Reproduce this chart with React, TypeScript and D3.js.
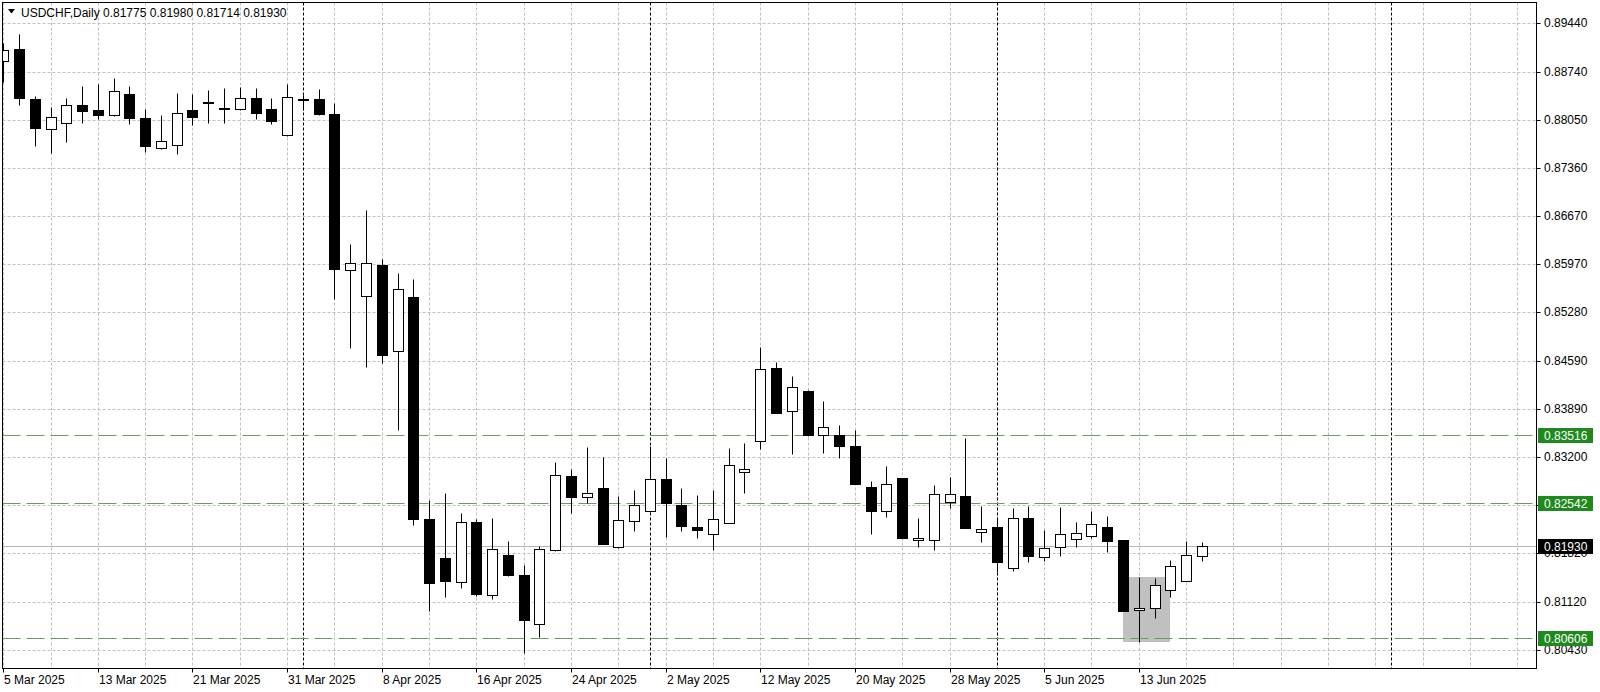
import React, { useEffect } from "react";
import * as d3 from "d3";

const width = 1600;
const height = 692;

// trading days shown on the chart
const marchDays = [5, 6, 7, 10, 11, 12, 13, 14, 17, 18, 19, 20, 21, 24, 25, 26, 27, 28, 31];
const aprilDays = [1, 2, 3, 4, 7, 8, 9, 10, 11, 14, 15, 16, 17, 18, 21, 22, 23, 24, 25, 28, 29, 30];
const mayDays = [1, 2, 5, 6, 7, 8, 9, 12, 13, 14, 15, 16, 19, 20, 21, 22, 23, 26, 27, 28, 29, 30];
const juneDays = [2, 3, 4, 5, 6, 9, 10, 11, 12, 13, 16, 17, 18, 19];

const opens = [
  0.88898, 0.89071, 0.88344, 0.87913, 0.88007, 0.88266, 0.88186, 0.88122, 0.8842, 0.88071,
  0.87639, 0.87683, 0.88186, 0.88305, 0.8821, 0.88204, 0.88362, 0.88209, 0.87826, 0.88345,
  0.88352, 0.88132, 0.85886, 0.85513, 0.85958, 0.84722, 0.85503, 0.82317, 0.81752, 0.81407,
  0.82274, 0.81225, 0.818, 0.81508, 0.80799, 0.81863, 0.82926, 0.82624, 0.82758, 0.81906,
  0.82284, 0.82427, 0.82883, 0.82514, 0.82202, 0.82093, 0.82255, 0.82992, 0.83433, 0.84482,
  0.8386, 0.84156, 0.8352, 0.8352, 0.83362, 0.82768, 0.82427, 0.82897, 0.82006, 0.82006,
  0.82553, 0.82639, 0.8213, 0.82202, 0.81604, 0.82331, 0.81762, 0.81906, 0.82029, 0.82075,
  0.82202, 0.82011, 0.81001, 0.81038, 0.81297, 0.81422, 0.81775,
];
const highs = [
  0.89148, 0.89282, 0.88391, 0.88237, 0.88367, 0.88535, 0.88563, 0.8865, 0.88535, 0.882,
  0.88114, 0.88438, 0.8842, 0.88477, 0.88506, 0.88525, 0.88506, 0.88362, 0.88563, 0.88405,
  0.88492, 0.88286, 0.86269, 0.86753, 0.86044, 0.85843, 0.85761, 0.82586, 0.82682, 0.82403,
  0.82308, 0.82323, 0.81996, 0.81652, 0.81925, 0.83136, 0.83027, 0.83351, 0.83208, 0.82643,
  0.82729, 0.83366, 0.83185, 0.82758, 0.82657, 0.82729, 0.83328, 0.83409, 0.84788, 0.84564,
  0.84367, 0.84165, 0.84013, 0.83659, 0.83591, 0.82859, 0.8307, 0.82905, 0.82331, 0.82801,
  0.82916, 0.83481, 0.82499, 0.82346, 0.82475, 0.82504, 0.82154, 0.82489, 0.82265, 0.82427,
  0.82356, 0.82015, 0.81483, 0.81469, 0.81723, 0.81996, 0.8198,
];
const lows = [
  0.88597, 0.88262, 0.87677, 0.87576, 0.87734, 0.88007, 0.88056, 0.8811, 0.87989, 0.87591,
  0.8763, 0.87562, 0.87974, 0.88007, 0.88007, 0.88195, 0.88056, 0.87989, 0.8782, 0.8819,
  0.88125, 0.8547, 0.84774, 0.84501, 0.8455, 0.83591, 0.82226, 0.80995, 0.81196, 0.81317,
  0.8121, 0.81163, 0.815, 0.80383, 0.80621, 0.81855, 0.82394, 0.82538, 0.8195, 0.819,
  0.8214, 0.8242, 0.82058, 0.8214, 0.82044, 0.81867, 0.8225, 0.8269, 0.83314, 0.83835,
  0.83247, 0.8351, 0.83257, 0.83193, 0.82815, 0.82097, 0.82337, 0.8204, 0.81914, 0.81867,
  0.82466, 0.8218, 0.81986, 0.81555, 0.8157, 0.81699, 0.81713, 0.81785, 0.81914, 0.82035,
  0.81834, 0.8099, 0.80549, 0.80886, 0.81196, 0.81415, 0.81714,
];
const closes = [
  0.89052, 0.88358, 0.87936, 0.88085, 0.88266, 0.8818, 0.88122, 0.88463, 0.88075, 0.87668,
  0.8774, 0.88142, 0.88094, 0.883, 0.88216, 0.88367, 0.88151, 0.88036, 0.88381, 0.8835,
  0.88132, 0.85905, 0.85987, 0.85996, 0.84665, 0.85613, 0.82313, 0.81393, 0.81422, 0.82274,
  0.81235, 0.81877, 0.81508, 0.80865, 0.81877, 0.8294, 0.82624, 0.82682, 0.81958, 0.82302,
  0.82514, 0.82883, 0.82542, 0.82212, 0.82159, 0.82317, 0.83084, 0.83027, 0.84468, 0.8384,
  0.84209, 0.8352, 0.8363, 0.83362, 0.8282, 0.82427, 0.82811, 0.82044, 0.82035, 0.82667,
  0.82667, 0.82188, 0.82165, 0.8169, 0.82331, 0.81785, 0.81891, 0.82093, 0.82116, 0.82236,
  0.82001, 0.80995, 0.81038, 0.81364, 0.81633, 0.81791, 0.8193,
];

const priceTicks = [
  0.8944, 0.8874, 0.8805, 0.8736, 0.8667, 0.8597, 0.8528, 0.8459, 0.8389, 0.832,
  0.8251, 0.8182, 0.8112, 0.8043,
];
const greenLevels = [0.83516, 0.82542, 0.80606];
const bidPrice = 0.8193;
const zoneTop = 0.81483;
const zoneBottom = 0.8054;
const zoneStartIndex = 71;
const zoneEndIndex = 74;
const julySeparatorIndex = 88;
const labelEvery = 6;
const gridEvery = 3;
const lastGridIndex = 96;

const dates = [
  ...marchDays.map((d) => new Date(2025, 2, d)),
  ...aprilDays.map((d) => new Date(2025, 3, d)),
  ...mayDays.map((d) => new Date(2025, 4, d)),
  ...juneDays.map((d) => new Date(2025, 5, d)),
];

const candles = dates.map((date, i) => ({
  date,
  i,
  o: opens[i],
  h: highs[i],
  l: lows[i],
  c: closes[i],
}));

const left = 2.5;
const right = 1536.5;
const top = 2.5;
const bottom = 668.5;
const font = "'Liberation Sans', Arial, sans-serif";
const fmtDate = d3.timeFormat("%-d %b %Y");
const fmtPrice = d3.format(".5f");

const x = d3.scaleLinear().domain([0, 72]).range([3.2, 1138.8]);
const y = d3.scaleLinear().domain([0.8043, 0.8944]).range([650, 23]);

const px = (v: number) => Math.round(v) + 0.5;

function App() {
  useEffect(() => {
    document.body.style.margin = "0";
  }, []);

  const separators = candles
    .filter((d, i) => i > 0 && d.date.getMonth() !== candles[i - 1].date.getMonth())
    .map((d) => d.i)
    .concat([julySeparatorIndex]);

  const gridIdx = d3.range(0, lastGridIndex + 1, gridEvery);
  const labelIdx = d3.range(0, candles.length, labelEvery);
  const last = candles[candles.length - 1];

  return (
    <svg width={width} height={height} style={{ display: "block", background: "#fff" }} fontFamily={font} fontSize={12}>
      <defs>
        <clipPath id="plot">
          <rect x={left} y={top} width={right - left} height={bottom - top} />
        </clipPath>
      </defs>

      <g clipPath="url(#plot)">
        {/* grid */}
        {priceTicks.map((t) => (
          <line key={"h" + t} x1={left} x2={right} y1={px(y(t))} y2={px(y(t))} stroke="#c0c0c0" strokeDasharray="3,2" />
        ))}
        {gridIdx.map((i) => (
          <line key={"v" + i} x1={px(x(i))} x2={px(x(i))} y1={top} y2={bottom} stroke="#c0c0c0" strokeDasharray="3,2" />
        ))}
        {separators.map((i) => (
          <line key={"s" + i} x1={px(x(i))} x2={px(x(i))} y1={top} y2={bottom} stroke="#000" strokeDasharray="3,2" />
        ))}

        {/* zone box */}
        <rect
          x={Math.round(x(zoneStartIndex))}
          y={Math.round(y(zoneTop))}
          width={Math.round(x(zoneEndIndex)) - Math.round(x(zoneStartIndex))}
          height={Math.round(y(zoneBottom)) - Math.round(y(zoneTop))}
          fill="#c0c0c0"
        />

        {/* level lines */}
        {greenLevels.map((v) => (
          <line key={"g" + v} x1={left} x2={right} y1={px(y(v))} y2={px(y(v))} stroke="#5fa35f" strokeDasharray="18,6" />
        ))}
        <line x1={left} x2={right} y1={px(y(bidPrice))} y2={px(y(bidPrice))} stroke="#b4b4b4" />

        {/* candles */}
        {candles.map((d) => {
          const cx = px(x(d.i));
          const up = d.c >= d.o;
          const yt = px(y(Math.max(d.o, d.c)));
          const yb = px(y(Math.min(d.o, d.c)));
          return (
            <g key={d.i}>
              <line x1={cx} x2={cx} y1={px(y(d.h))} y2={px(y(d.l))} stroke="#000" />
              <rect
                x={cx - 5}
                y={yt}
                width={10}
                height={Math.max(1, yb - yt)}
                fill={up ? "#fff" : "#000"}
                stroke="#000"
              />
            </g>
          );
        })}
      </g>

      {/* frame */}
      <rect x={left} y={top} width={right - left} height={bottom - top} fill="none" stroke="#000" />

      {/* title */}
      <path d="M8,9 L15,9 L11.5,13.5 Z" fill="#000" />
      <text x={21} y={17} fill="#000">
        {`USDCHF,Daily  ${fmtPrice(last.o)} ${fmtPrice(last.h)} ${fmtPrice(last.l)} ${fmtPrice(last.c)}`}
      </text>

      {/* price axis */}
      {priceTicks.map((t) => (
        <g key={"t" + t}>
          <line x1={right} x2={right + 4} y1={px(y(t))} y2={px(y(t))} stroke="#000" />
          <text x={1544} y={Math.round(y(t)) + 4} fill="#000">
            {fmtPrice(t)}
          </text>
        </g>
      ))}
      {greenLevels.map((v) => (
        <g key={"gl" + v}>
          <rect x={1538} y={Math.round(y(v)) - 7} width={55} height={15} fill="#1e8a1e" />
          <text x={1544} y={Math.round(y(v)) + 5} fill="#fff">
            {fmtPrice(v)}
          </text>
        </g>
      ))}
      <rect x={1538} y={Math.round(y(bidPrice)) - 7} width={55} height={15} fill="#000" />
      <text x={1544} y={Math.round(y(bidPrice)) + 5} fill="#fff">
        {fmtPrice(bidPrice)}
      </text>

      {/* date axis */}
      {labelIdx.map((i) => (
        <g key={"d" + i}>
          <line x1={px(x(i))} x2={px(x(i))} y1={bottom} y2={bottom + 4} stroke="#000" />
          <text x={Math.round(x(i)) + 1} y={684} fill="#000">
            {fmtDate(candles[i].date)}
          </text>
        </g>
      ))}
    </svg>
  );
}

export default App;
